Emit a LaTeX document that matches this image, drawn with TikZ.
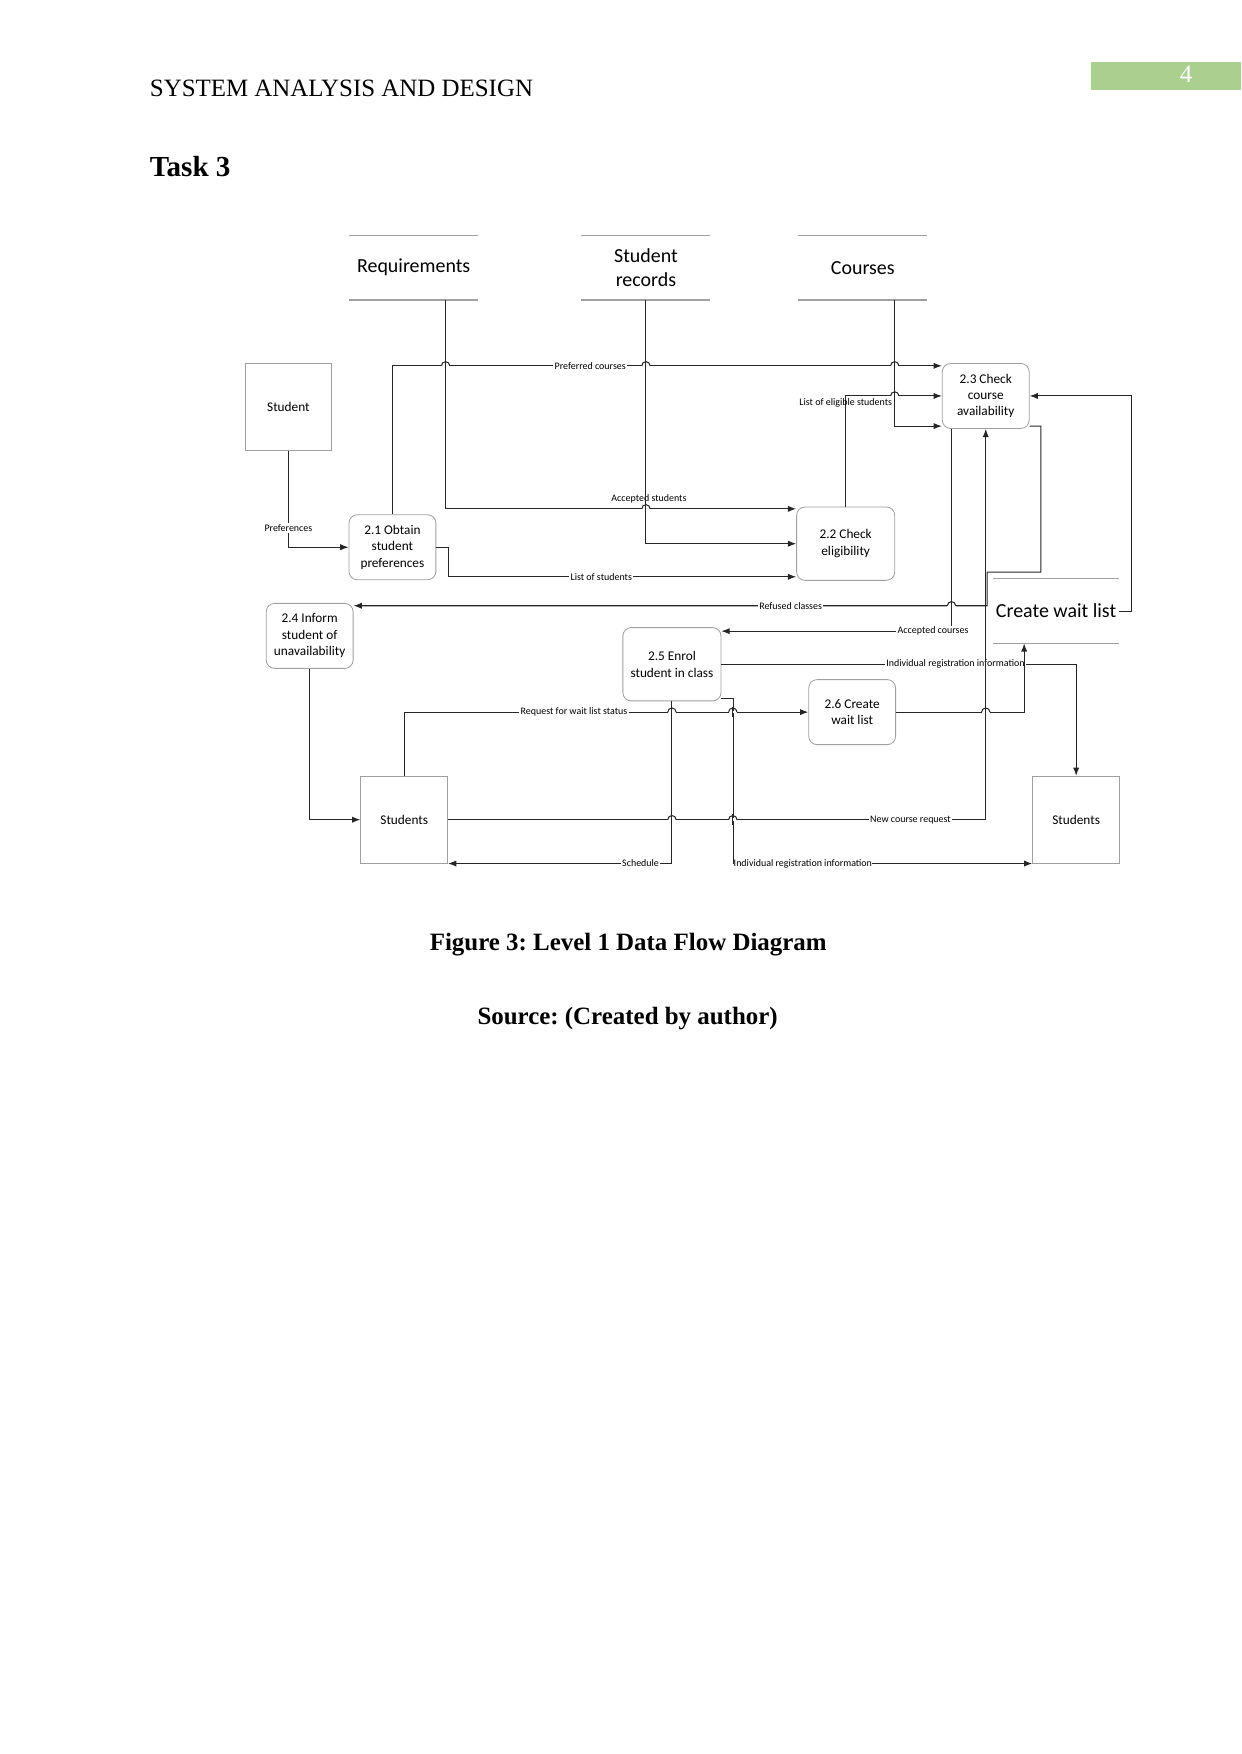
\documentclass[tikz,border=0pt]{standalone}
\usepackage{fontspec}
\setmainfont{Liberation Serif}
\newfontfamily\diafont{Carlito}
\usetikzlibrary{arrows.meta}
\frenchspacing
\definecolor{pagegreen}{RGB}{169, 208, 142}
\definecolor{boxgray}{RGB}{160, 160, 160}
\newcommand{\procfont}{\diafont\fontsize{6.4}{7.9}\selectfont}
\newcommand{\lblfont}{\diafont\fontsize{4.8}{5.5}\selectfont}
\newcommand{\storefont}{\diafont\fontsize{9.6}{11.5}\selectfont}

\tikzset{
    hop/.pic={
        \fill[white] (-2pt,-0.6pt) rectangle (2pt,0.6pt);
        \draw[black!85, line width=0.5pt] (-2pt,0) arc[start angle=180, end angle=0, radius=2pt];
        \draw[black!85, line width=0.5pt] (0,-2.5pt) -- (0,2.5pt);
    }
}

\begin{document}
\begin{tikzpicture}[
        proc/.style={draw=boxgray, rounded corners=4pt, align=center, font=\procfont,
            minimum width=1.47cm, minimum height=1.1cm, inner sep=1pt},
        bigproc/.style={proc, minimum width=1.66cm, minimum height=1.24cm},
        ent/.style={draw=boxgray, font=\procfont, minimum width=1.47cm, minimum height=1.47cm},
        store/.style={align=center, font=\storefont, minimum width=2.17cm,
            minimum height=1.08cm, inner sep=1pt},
        storeline/.style={draw=boxgray, line width=0.6pt},
        flow/.style={draw=black!85, line width=0.5pt, -{Latex[length=4pt,width=3pt]}},
        lbl/.style={font=\lblfont, fill=white, inner sep=0.6pt},
        pagetext/.style={inner sep=0pt, font=\fontsize{12}{14}\selectfont}
    ]
    \useasboundingbox (0,0) rectangle (21,-29.68);

    % page header and caption
    \fill[pagegreen] (18.46,-1.05) rectangle (21,-1.52);
    \node[pagetext, anchor=base, text=white] (pnum) at (20.07,-1.40) {4};
    \node[pagetext, anchor=base west] (head) at (2.53,-1.64) {SYSTEM ANALYSIS AND DESIGN};
    \node[pagetext, anchor=base west, font=\fontsize{14}{16}\selectfont\bfseries] (task) at (2.53,-2.99) {Task 3};
    \node[pagetext, anchor=base, font=\fontsize{12}{14}\selectfont\bfseries] (cap) at (10.63,-16.09) {Figure 3: Level 1 Data Flow Diagram};
    \node[pagetext, anchor=base, font=\fontsize{12}{14}\selectfont\bfseries] (src) at (10.62,-17.34) {Source: (Created by author)};

    % data stores
    \node[store] (req) at (7.00,-4.53) {Requirements};
    \node[store] (rec) at (10.93,-4.53) {Student\\records};
    \node[store] (crs) at (14.60,-4.53) {Courses};
    \node[store, minimum width=2.13cm] (cwl) at (17.87,-10.34) {Create wait list};
    \foreach \s in {req, rec, crs, cwl}
        \draw[storeline] (\s.north west) -- (\s.north east) (\s.south west) -- (\s.south east);

    % external entities
    \node[ent] (student) at (4.88,-6.89) {Student};
    \node[ent] (stL) at (6.84,-13.87) {Students};
    \node[ent] (stR) at (18.21,-13.87) {Students};

    % processes
    \node[proc] (p21) at (6.64,-9.26) {2.1 Obtain\\student\\preferences};
    \node[bigproc] (p22) at (14.31,-9.20) {2.2 Check\\eligibility};
    \node[proc] (p23) at (16.68,-6.70) {2.3 Check\\course\\availability};
    \node[proc] (p24) at (5.24,-10.76) {2.4 Inform\\student of\\unavailability};
    \node[bigproc] (p25) at (11.37,-11.24) {2.5 Enrol\\student in class};
    \node[proc] (p26) at (14.42,-12.05) {2.6 Create\\wait list};

    % levels of the flows
    \coordinate (yPref) at (0,-6.19);
    \coordinate (yCrs) at (0,-7.21);
    \coordinate (yAccS) at (0,-8.61);
    \coordinate (yLos) at (0,-9.76);
    \coordinate (yRef) at (0,-10.25);
    \coordinate (yAccC) at (0,-10.68);

    % flows
    \draw[flow] (student.south) |- node[lbl, pos=0.4]{Preferences} (p21.west);
    \draw[flow] (p21.north) |- node[lbl, pos=0.68]{Preferred courses} (p23.west |- yPref);
    \draw[flow] ([xshift=0.54cm]req.south) |- node[lbl, pos=0.79, above=2pt, fill=none]{Accepted students} (p22.west |- yAccS);
    \draw[flow] (rec.south) |- (p22.west);
    \draw[flow] (p21.east) -- ++(0.2,0) |- node[lbl, pos=0.72]{List of students} (p22.west |- yLos);
    \draw[flow] (p22.north) |- node[lbl, pos=0.75, anchor=north east, yshift=-0.5pt, fill=none]{List of eligible students} (p23.west);
    \draw[flow] ([xshift=0.54cm]crs.south) |- (p23.west |- yCrs);
    \draw[flow] (p23.east |- yCrs) -- ++(0.19,0) -- ++(0,-2.47) -- ++(-0.91,0) -- ++(0,-0.57)
        -- node[lbl, pos=0.31]{Refused classes} (p24.east |- yRef);
    \draw[flow] ([xshift=-0.58cm]p23.south) |- node[lbl, pos=0.54]{Accepted courses} (p25.east |- yAccC);
    \draw[flow] (p25.east) -| node[lbl, pos=0.33]{Individual registration information} (stR.north);
    \draw[flow] (p26.east) -| ([xshift=-0.54cm]cwl.south);
    \draw[flow] (cwl.east) -- ++(0.2,0) |- (p23.east);
    \draw[flow] (stL.north) |- node[lbl, pos=0.71]{Request for wait list status} (p26.west);
    \draw[flow] (p24.south) |- (stL.west);
    \draw[flow] (stL.east) -| node[lbl, pos=0.43]{New course request} (p23.south);
    \draw[flow] (p25.south) |- node[lbl, pos=0.57]{Schedule} (stL.south east);
    \draw[flow] ([yshift=1.5pt]p25.south east) -- ++(0.2,0)
        |- node[lbl, pos=0.5, anchor=west, inner xsep=0pt]{Individual registration information} (stR.south west);

    % line hops
    \foreach \p in {(7.54,-6.19), (10.93,-6.19), (15.14,-6.19), (10.93,-8.61), (15.14,-6.70),
            (16.10,-10.25), (16.68,-12.05), (11.37,-12.05), (12.40,-12.05), (11.37,-13.87), (12.40,-13.87)}
        \pic at \p {hop};
\end{tikzpicture}
\end{document}
